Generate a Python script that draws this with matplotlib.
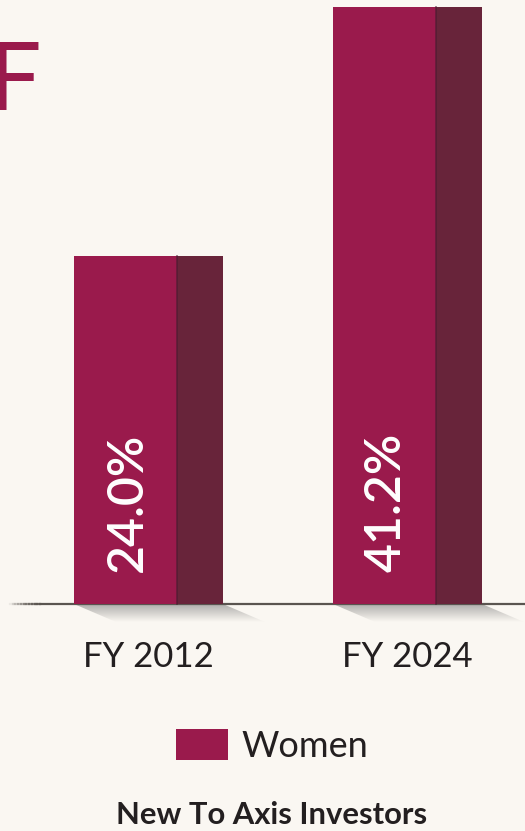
import numpy as np
import matplotlib.pyplot as plt
from matplotlib.patches import Polygon, Patch

plt.rcParams['font.family'] = ['Lato', 'DejaVu Sans']

categories = ['FY 2012', 'FY 2024']
women_share = [24.0, 41.2]
series_name = 'Women'
title = 'New To Axis Investors'

front_color = '#9a1a4c'
side_color = '#68243a'
bg_color = '#faf7f2'
text_color = '#231f20'

fig = plt.figure(figsize=(5.25, 8.31), dpi=100, facecolor=bg_color)
ax = fig.add_axes([0, 0, 1, 1])
ax.set_facecolor(bg_color)

# scale: one category step = 259 px, one percent = 14.5 px, baseline 604 px from top
ppu = 14.5
ax.set_xlim(-148.5 / 259, (525 - 148.5) / 259)
ax.set_ylim(-(831 - 604) / ppu, 604 / ppu)

x = np.arange(len(categories))
w = 149 / 259          # full bar (front + side)
fw = 103 / 259         # front face
sw = w - fw            # side face
front_x = x - w / 2 + fw / 2
side_x = x - w / 2 + fw + sw / 2

# soft shadow falling down-right from each bar
dx, dy = 42 / 259, 18 / ppu
grad = np.zeros((64, 2, 4))
grad[..., :3] = 0.45
grad[..., 3] = np.linspace(0.55, 0.0, 64)[:, None]
for xi in x:
    x0, x1 = xi - w / 2, xi + w / 2
    poly = Polygon([(x0, 0), (x1, 0), (x1 + dx, -dy), (x0 + dx, -dy)],
                   closed=True, transform=ax.transData, facecolor='none', edgecolor='none')
    ax.add_patch(poly)
    im = ax.imshow(grad, extent=(x0, x1 + dx, -dy, 0), aspect='auto', origin='upper',
                   interpolation='bilinear', zorder=1)
    im.set_clip_path(poly)

bars = ax.bar(front_x, women_share, width=fw, color=front_color, zorder=3, label=series_name)
ax.bar(side_x, women_share, width=sw, color=side_color, zorder=3)
# thin divider between front and side face
for fx, v in zip(front_x, women_share):
    ax.plot([fx + fw / 2, fx + fw / 2], [0, v], color='#4a1a30', lw=1.2, alpha=0.7, zorder=4)

# baseline, fading in at the left
ax.plot([(40 - 148.5) / 259, 1.46], [0, 0], color='#5a5550', lw=1.6, zorder=2)
fade_x = np.linspace((10 - 148.5) / 259, (40 - 148.5) / 259, 12)
for i in range(len(fade_x) - 1):
    ax.plot(fade_x[i:i + 2], [0, 0], color='#5a5550', lw=1.6,
            alpha=(i + 1) / len(fade_x), zorder=2)

for fx, v in zip(front_x, women_share):
    ax.text(fx + 1.5 / 259, 32 / ppu, f'{v:.1f}%', rotation=90, ha='center', va='bottom',
            color='white', fontsize=36, fontweight='semibold', zorder=5)

for xi, cat in zip(x, categories):
    ax.text(xi, -53 / ppu, cat, ha='center', va='center', fontsize=25, color=text_color)

ax.axis('off')

fig.legend(handles=[Patch(facecolor=front_color, label=series_name)], loc='center',
           bbox_to_anchor=(272 / 525, (831 - 746) / 831), frameon=False, fontsize=26,
           handlelength=1.45, handleheight=0.95, handletextpad=0.35, labelcolor=text_color)

fig.text(272 / 525, (831 - 815) / 831, title, ha='center', va='center',
         fontsize=22.3, fontweight='bold', color=text_color)

# large heading letter running in from the left edge
fig.text(-12 / 525, (831 - 110) / 831, 'F', ha='left', va='baseline',
         fontsize=68, fontweight='medium', color=front_color)

fig.savefig('out.png', dpi=100, facecolor=bg_color)
